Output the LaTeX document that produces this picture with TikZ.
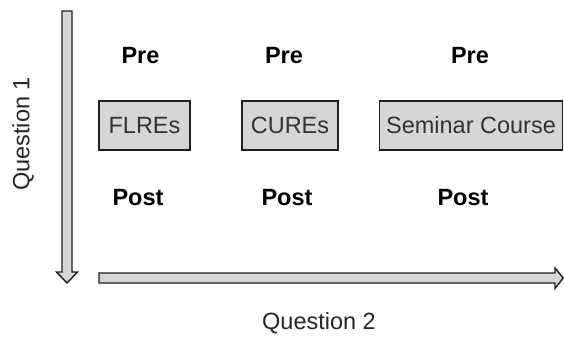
\documentclass[tikz,border=0pt]{standalone}
\usepackage{fontspec}
\setmainfont{Liberation Sans}
\definecolor{boxfill}{HTML}{D6D6D6}
\definecolor{edge}{HTML}{1E1E1E}
\definecolor{boxtext}{HTML}{333333}
\begin{document}
\begin{tikzpicture}[x=1pt,y=-1pt,
  lbl/.style={font=\fontsize{23.5}{27}\selectfont\bfseries, text=black, inner sep=0pt},
  qlbl/.style={font=\fontsize{23.5}{27}\selectfont, text=black!85, inner sep=0pt},
  stagebox/.style={draw=edge, line width=1.4pt, fill=boxfill, text=boxtext,
    font=\fontsize{23.5}{27}\selectfont, inner sep=0pt},
  axisarrow/.style={draw=edge, line width=1.4pt, fill=boxfill, line join=miter}]
\useasboundingbox (0,0) rectangle (564,338);

% vertical axis (Question 1)
\draw[axisarrow] (62,11) -- (72,11) -- (72,272) -- (77.5,272) -- (67,283)
  -- (56.5,272) -- (62,272) -- cycle;
% horizontal axis (Question 2)
\draw[axisarrow] (99,273) -- (555,273) -- (555,268) -- (563.2,278) -- (555,288.5)
  -- (555,283) -- (99,283) -- cycle;

\node[qlbl, rotate=90] (q1) at (23,134) {Question 1};
\node[qlbl] (q2) at (319,323) {Question 2};

% course formats
\node[stagebox, minimum width=91pt, minimum height=49pt] (flres) at (144.5,125.5) {FLREs};
\node[stagebox, minimum width=96pt, minimum height=49pt] (cures) at (290,125.5) {CUREs};
\node[stagebox, minimum width=183pt, minimum height=49pt] (sem) at (471,125.5) {Seminar Course};

% pre / post markers
\node[lbl] (pre1) at (140.5,56) {Pre};
\node[lbl] (pre2) at (284,56) {Pre};
\node[lbl] (pre3) at (470,56) {Pre};
\node[lbl] (post1) at (138,198) {Post};
\node[lbl] (post2) at (287,198) {Post};
\node[lbl] (post3) at (463,198) {Post};
\end{tikzpicture}
\end{document}
